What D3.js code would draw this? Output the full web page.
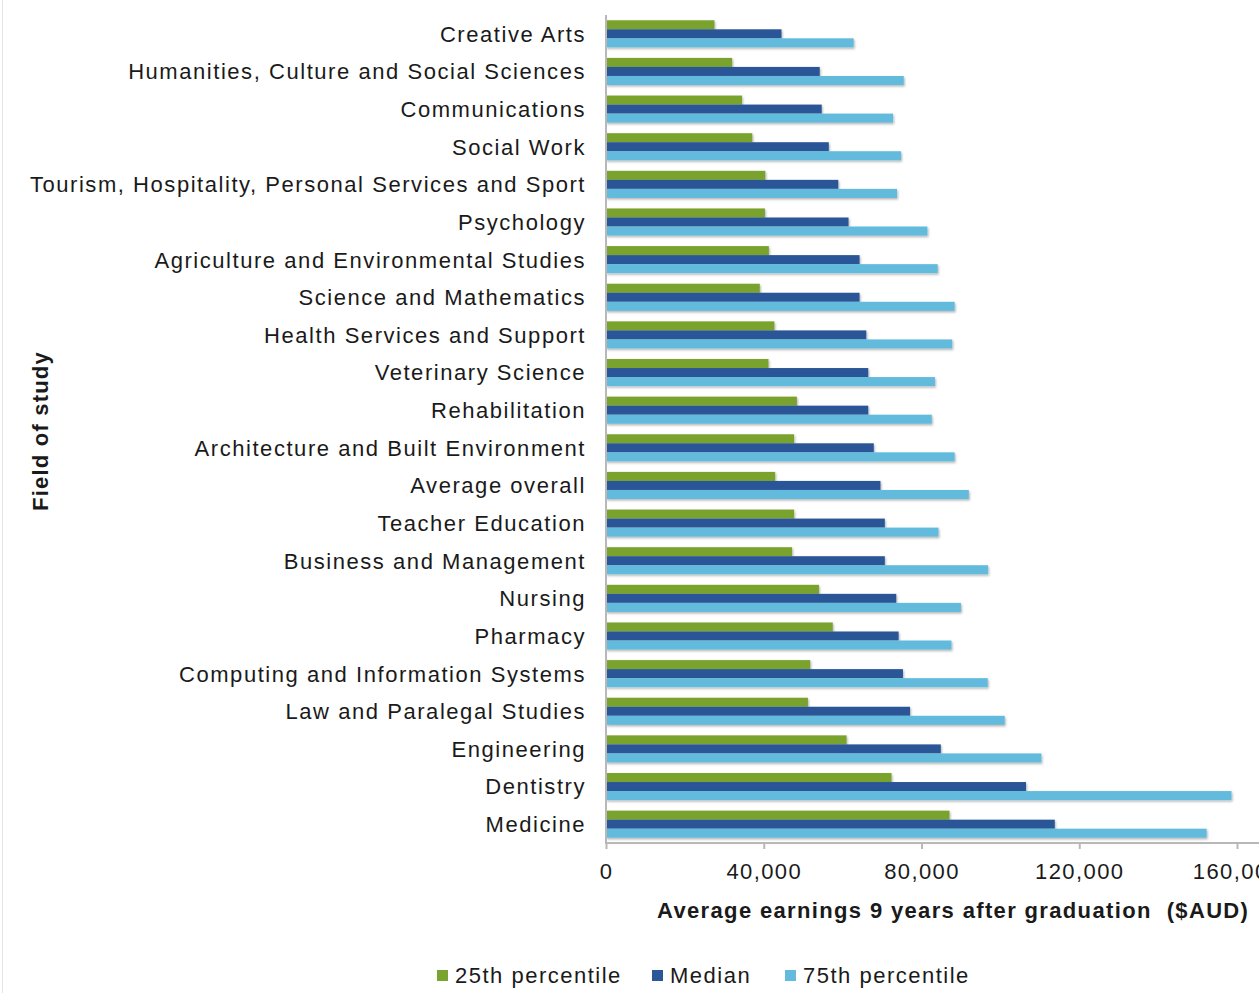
<!DOCTYPE html>
<html>
<head>
<meta charset="utf-8">
<script src="https://cdn.jsdelivr.net/npm/d3@7"></script>
<style>
  html, body { margin: 0; padding: 0; background: #fff; }
  svg { display: block; font-family: "Liberation Sans", Arial, sans-serif; }
</style>
</head>
<body>
<div id="chart"></div>
<script>
// field of study, top to bottom
let categories = [
    "Creative Arts",
    "Humanities, Culture and Social Sciences",
    "Communications",
    "Social Work",
    "Tourism, Hospitality, Personal Services and Sport",
    "Psychology",
    "Agriculture and Environmental Studies",
    "Science and Mathematics",
    "Health Services and Support",
    "Veterinary Science",
    "Rehabilitation",
    "Architecture and Built Environment",
    "Average overall",
    "Teacher Education",
    "Business and Management",
    "Nursing",
    "Pharmacy",
    "Computing and Information Systems",
    "Law and Paralegal Studies",
    "Engineering",
    "Dentistry",
    "Medicine"
]
let p25 = [27500, 32000, 34500, 37100, 40400, 40300, 41300, 39000, 42700, 41200, 48400,
    47700, 42900, 47700, 47200, 54000, 57500, 51800, 51200, 61000, 72400, 87100]
let median = [44500, 54200, 54700, 56500, 58900, 61500, 64300, 64300, 66000, 66500, 66500,
    67900, 69600, 70700, 70700, 73600, 74200, 75300, 77100, 84900, 106500, 113800]
let p75 = [62800, 75500, 72800, 74800, 73800, 81500, 84100, 88400, 87800, 83400, 82600,
    88400, 92000, 84300, 96900, 90000, 87600, 96800, 101100, 110400, 158600, 152300]

let seriesNames = ["25th percentile", "Median", "75th percentile"]
let xTicks = [0, 40000, 80000, 120000, 160000]

var width = 1259, height = 993
var colors = ["#7aa32f", "#2b5797", "#62bbdc"]

var svg = d3.select("#chart")
    .append("svg")
        .attr("width", width)
        .attr("height", height)

// soft excel-like shadow under bars
var defs = svg.append("defs")
defs.append("filter")
    .attr("id", "shadow")
    .attr("x", "-5%").attr("y", "-50%").attr("width", "110%").attr("height", "200%")
    .append("feDropShadow")
        .attr("dx", 1).attr("dy", 1.5)
        .attr("stdDeviation", 0.8)
        .attr("flood-color", "#000")
        .attr("flood-opacity", 0.3)

// faint outer frame
svg.append("line")
    .attr("x1", 2.5).attr("x2", 2.5).attr("y1", 0).attr("y2", height)
    .attr("stroke", "#e4e4e4")

var x = d3.scaleLinear()
    .domain([0, 160000])
    .range([606, 1237])

var y = d3.scaleBand()
    .domain(categories)
    .range([15, 843])
    .paddingInner(0.28)
    .paddingOuter(0.14)

var ySub = d3.scaleBand()
    .domain(seriesNames)
    .range([0, y.bandwidth()])

let rows = categories.map(function(c, i) {
    return {cat: c, values: [p25[i], median[i], p75[i]]}
})

var groups = svg.selectAll(".group")
    .data(rows)
    .enter()
    .append("g")
        .attr("transform", function(d) { return "translate(0," + y(d.cat) + ")" })

groups.selectAll("rect")
    .data(function(d) { return d.values.map(function(v, j) { return {name: seriesNames[j], value: v, j: j} }) })
    .enter()
    .append("rect")
        .attr("x", x(0))
        .attr("y", function(d) { return ySub(d.name) })
        .attr("width", function(d) { return x(d.value) - x(0) })
        .attr("height", ySub.bandwidth())
        .attr("fill", function(d) { return colors[d.j] })
        .attr("filter", "url(#shadow)")

// category labels
svg.append("g")
    .selectAll("text")
    .data(categories)
    .enter()
    .append("text")
        .attr("x", 586)
        .attr("y", function(d) { return y(d) + y.bandwidth() / 2 })
        .attr("dy", "0.36em")
        .attr("text-anchor", "end")
        .style("font-size", "22px")
        .style("letter-spacing", "1.55px")
        .style("fill", "#1a1a1a")
        .text(function(d) { return d })

// y axis line
svg.append("line")
    .attr("x1", x(0)).attr("x2", x(0))
    .attr("y1", 15).attr("y2", 843)
    .attr("stroke", "#b8b8b8")
    .attr("stroke-width", 2)

// x axis
var xAxis = svg.append("g")
    .attr("transform", "translate(0,843)")
    .call(d3.axisBottom(x).tickValues(xTicks).tickSize(6).tickPadding(14)
        .tickFormat(d3.format(",")))
xAxis.select(".domain").remove()
xAxis.selectAll(".tick line").attr("stroke", "#b8b8b8").attr("stroke-width", 2)
xAxis.selectAll(".tick text")
    .style("font-size", "22px")
    .style("letter-spacing", "1.4px")
    .style("font-family", "'Liberation Sans', Arial, sans-serif")
    .attr("fill", "#1a1a1a")
xAxis.append("line")
    .attr("x1", x(0) - 1).attr("x2", width)
    .attr("y1", 0).attr("y2", 0)
    .attr("stroke", "#b8b8b8")
    .attr("stroke-width", 2)

// axis titles
svg.append("text")
    .attr("x", 657)
    .attr("y", 918)
    .style("font-size", "22px")
    .style("font-weight", "bold")
    .style("letter-spacing", "1.35px")
    .style("white-space", "pre")
    .style("fill", "#1a1a1a")
    .text("Average earnings 9 years after graduation  ($AUD)")

svg.append("text")
    .attr("transform", "translate(48,431) rotate(-90)")
    .attr("text-anchor", "middle")
    .style("font-size", "22px")
    .style("font-weight", "bold")
    .style("letter-spacing", "1.2px")
    .style("fill", "#1a1a1a")
    .text("Field of study")

// legend
var legendX = [437, 652, 785]
var legend = svg.append("g")
    .selectAll("g")
    .data(seriesNames)
    .enter()
    .append("g")
        .attr("transform", function(d, i) { return "translate(" + legendX[i] + ",975)" })
legend.append("rect")
    .attr("x", 0).attr("y", -5)
    .attr("width", 11).attr("height", 11)
    .attr("fill", function(d, i) { return colors[i] })
legend.append("text")
    .attr("x", 18)
    .attr("y", 0)
    .attr("dy", "0.36em")
    .style("font-size", "22px")
    .style("letter-spacing", "1.5px")
    .style("fill", "#1a1a1a")
    .text(function(d) { return d })
</script>
</body>
</html>
